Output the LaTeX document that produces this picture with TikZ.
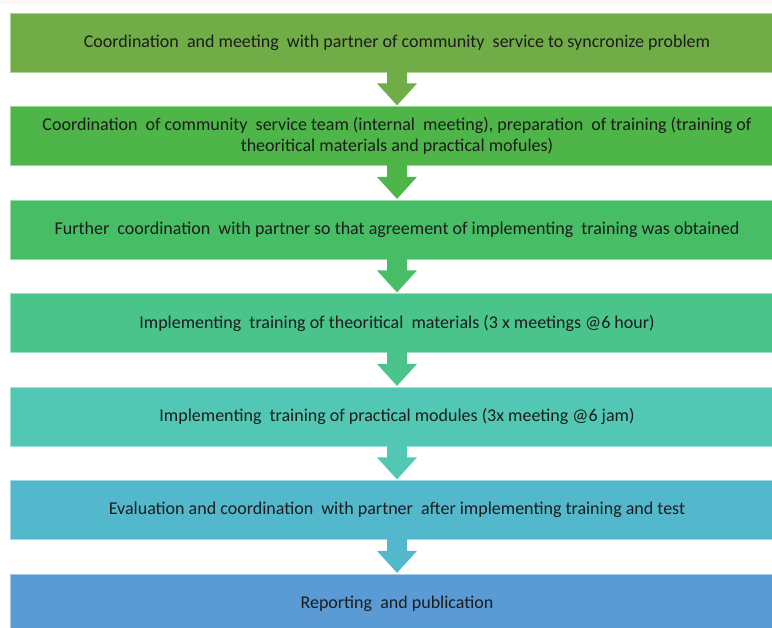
\documentclass[tikz,border=0pt]{standalone}
\usepackage{fontspec}
\setmainfont{Carlito}
\usetikzlibrary{calc}
\definecolor{cA}{HTML}{70AD47}
\definecolor{cB}{HTML}{4EB548}
\definecolor{cC}{HTML}{47BE65}
\definecolor{cD}{HTML}{4BC48C}
\definecolor{cE}{HTML}{52C8B4}
\definecolor{cF}{HTML}{54B8CC}
\definecolor{cG}{HTML}{5B9BD5}
\definecolor{txt}{HTML}{1C1C1C}
\tikzset{
  stepbox/.style={rectangle, fill=#1, draw=#1!55!white, line width=0.8pt,
    minimum width=774pt, minimum height=59pt, inner sep=0pt,
    align=center, text=txt, font=\fontsize{18}{21}\selectfont},
}
\newcommand{\flowarrow}[2]{\fill[#2] ($(#1.south)+(-10,-1)$) -- ++(0,12) -- ++(-10,0) -- ++(20,22) -- ++(20,-22) -- ++(-10,0) -- ++(0,-12) -- cycle;}
\begin{document}
\begin{tikzpicture}[x=1pt,y=-1pt]
\useasboundingbox (0,0) rectangle (772,628);
\clip (0,0) rectangle (772,628);
\fill[gray!6] (0,0) rectangle (772,4);
\node[stepbox=cA] (a) at (397,42.5) {Coordination\ \ and meeting\ \ with partner of community\ \ service to syncronize problem};
\node[stepbox=cB] (b) at (397,136) {Coordination\ \ of community\ \ service team (internal\ \ meeting), preparation\ \ of training (training of\\theoritical materials and practical mofules)};
\node[stepbox=cC] (c) at (397,229.5) {Further\ \ coordination\ \ with partner so that agreement of implementing\ \ training was obtained};
\node[stepbox=cD] (d) at (397,323) {Implementing\ \ training of theoritical\ \ materials (3 x meetings @6 hour)};
\node[stepbox=cE] (e) at (397,416.5) {Implementing\ \ training of practical modules (3x meeting @6 jam)};
\node[stepbox=cF] (f) at (397,510) {Evaluation and coordination\ \ with partner\ \ after implementing training and test};
\node[stepbox=cG] (g) at (397,603.5) {Reporting\ \ and publication};
\flowarrow{a}{cA}
\flowarrow{b}{cB}
\flowarrow{c}{cC}
\flowarrow{d}{cD}
\flowarrow{e}{cE}
\flowarrow{f}{cF}
\end{tikzpicture}
\end{document}
